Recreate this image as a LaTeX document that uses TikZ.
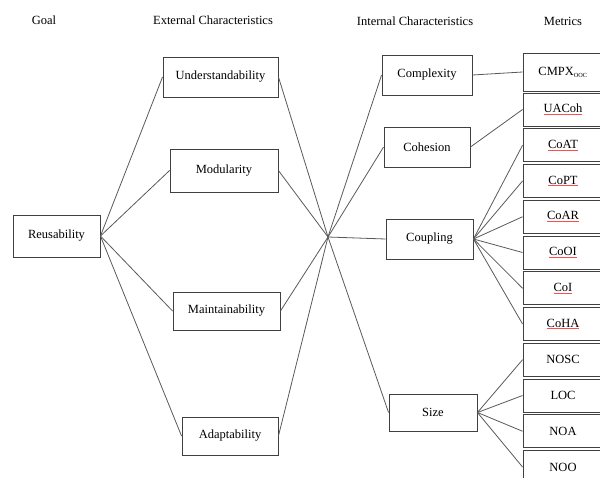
\documentclass[tikz,border=0pt]{standalone}
\usepackage{fontspec}
\setmainfont{Liberation Serif}
\begin{document}
\begin{tikzpicture}[x=1pt,y=-1pt,
  box/.style={draw=black!75,line width=0.9pt,inner sep=0pt,align=center,font=\fontsize{12.5}{14}\selectfont},
  mbox/.style={box,minimum width=80pt,minimum height=33pt},
  head/.style={font=\fontsize{12.5}{14}\selectfont,inner sep=0pt},
  link/.style={draw=black!65,line width=0.8pt},
]
\useasboundingbox (0,0) rectangle (600,477);
\clip (0,0) rectangle (600,477);
\newcommand{\redul}[1]{{\color{red!70}\underline{\color{black}#1}}}
% headers
\node[head] (hGoal) at (44,20) {Goal};
\node[head] (hExt) at (213,20) {External Characteristics};
\node[head] (hInt) at (415,21) {Internal Characteristics};
\node[head] (hMet) at (563,21) {Metrics};
% goal
\node[box,minimum width=87pt,minimum height=42pt] (reu) at (56.5,236) {Reusability};
% external
\node[box,minimum width=115pt,minimum height=40pt] (und) at (220.5,77) {Understandability};
\node[box,minimum width=108pt,minimum height=43pt] (mod) at (224,170.5) {Modularity};
\node[box,minimum width=107pt,minimum height=38pt] (mai) at (226.5,311) {Maintainability};
\node[box,minimum width=96pt,minimum height=38pt] (ada) at (230,436) {Adaptability};
% hub
\coordinate (hub) at (328,237);
% internal
\node[box,minimum width=90pt,minimum height=40pt] (cpx) at (427,75) {Complexity};
\node[box,minimum width=86pt,minimum height=40pt] (coh) at (427,147) {Cohesion};
\node[box,minimum width=87pt,minimum height=40pt] (cou) at (429.5,239) {Coupling};
\node[box,minimum width=88pt,minimum height=37pt] (siz) at (433,412.5) {Size};
% metrics
\node[mbox,minimum height=38pt] (m0) at (563,72) {CMPX$_{\mathrm{\scriptscriptstyle OOC}}$};
\node[mbox] (m1) at (563,109.5) {\redul{UACoh}};
\node[mbox] (m2) at (563,145.25) {\redul{CoAT}};
\node[mbox] (m3) at (563,181) {\redul{CoPT}};
\node[mbox] (m4) at (563,216.75) {\redul{CoAR}};
\node[mbox] (m5) at (563,252.5) {\redul{CoOI}};
\node[mbox] (m6) at (563,288.25) {\redul{CoI}};
\node[mbox] (m7) at (563,324) {\redul{CoHA}};
\node[mbox] (m8) at (563,359.75) {NOSC};
\node[mbox] (m9) at (563,395.5) {LOC};
\node[mbox] (m10) at (563,431.25) {NOA};
\node[mbox] (m11) at (563,467) {NOO};
% connectors
\foreach \n in {und,mod,mai,ada} {
  \draw[link] (reu.east) -- (\n.west);
  \draw[link] (\n.east) -- (hub);
}
\foreach \n in {cpx,coh,cou,siz} \draw[link] (hub) -- (\n.west);
\draw[link] (cpx.east) -- (m0.west);
\draw[link] (coh.east) -- (m1.west);
\foreach \n in {m2,m3,m4,m5,m6,m7} \draw[link] (cou.east) -- (\n.west);
\foreach \n in {m8,m9,m10,m11} \draw[link] (siz.east) -- (\n.west);
\end{tikzpicture}
\end{document}
